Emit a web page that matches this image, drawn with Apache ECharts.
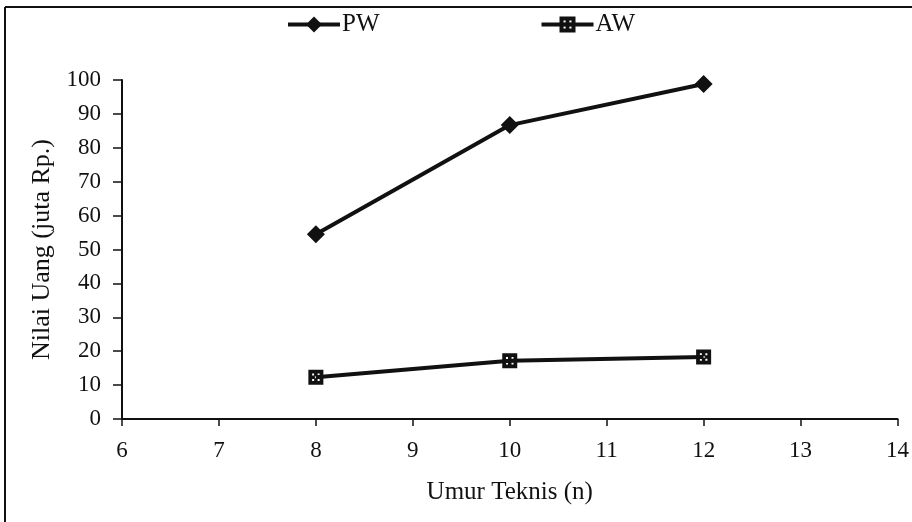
<!DOCTYPE html>
<html>
<head>
<meta charset="utf-8">
<script src="https://cdn.jsdelivr.net/npm/echarts@6/dist/echarts.min.js"></script>
<style>
  html, body { margin: 0; padding: 0; background: #fff; }
  #chart { width: 912px; height: 522px; }
</style>
</head>
<body>
<div id="chart"></div>
<script>
// Umur teknis (tahun) dan nilai uang (juta Rp.)
const years = [8, 10, 12];
const pwValues = [54.5, 86.7, 98.8];
const awValues = [12.3, 17.2, 18.3];
const seriesNames = ['PW', 'AW'];

const FONT = '"Liberation Serif", "DejaVu Serif", serif';
const INK = '#111';

// Square marker with small dotted pattern (holes cut with reversed winding)
const dottedSquare = 'path://M0,0H12V12H0Z' +
  'M3,3V4.6H4.6V3Z M7.4,3V4.6H9V3Z M5.2,5.2V6.8H6.8V5.2Z M3,7.4V9H4.6V7.4Z M7.4,7.4V9H9V7.4Z';

const chart = echarts.init(document.getElementById('chart'));
chart.setOption({
  backgroundColor: '#fff',
  animation: false,
  textStyle: { fontFamily: FONT, color: INK },
  graphic: [
    { type: 'line', shape: { x1: 5, y1: 7, x2: 912, y2: 7 }, style: { stroke: INK, lineWidth: 2 } },
    { type: 'line', shape: { x1: 5, y1: 7, x2: 5, y2: 522 }, style: { stroke: INK, lineWidth: 2 } }
  ],
  legend: {
    left: 281,
    top: 7,
    itemWidth: 52,
    itemHeight: 20,
    itemGap: 160,
    lineStyle: { width: 4 },
    textStyle: { fontFamily: FONT, fontSize: 25, color: INK, padding: [2, 0, 0, -3] },
    data: seriesNames
  },
  grid: { left: 122, right: 14, top: 80, bottom: 103 },
  xAxis: {
    type: 'value',
    min: 6,
    max: 14,
    interval: 1,
    name: 'Umur Teknis (n)',
    nameLocation: 'middle',
    nameGap: 61,
    nameTextStyle: { fontFamily: FONT, fontSize: 25, color: INK },
    axisLine: { onZero: false, lineStyle: { color: INK, width: 2 } },
    axisTick: { length: 7, lineStyle: { color: INK, width: 1.5 } },
    axisLabel: { fontFamily: FONT, fontSize: 23, color: INK, margin: 20 },
    splitLine: { show: false }
  },
  yAxis: {
    type: 'value',
    min: 0,
    max: 100,
    interval: 10,
    name: 'Nilai Uang (juta Rp.)',
    nameLocation: 'middle',
    nameGap: 64,
    nameTextStyle: { fontFamily: FONT, fontSize: 26, color: INK },
    axisLine: { show: true, lineStyle: { color: INK, width: 2 } },
    axisTick: { show: true, length: 9, lineStyle: { color: INK, width: 1.5 } },
    axisLabel: { fontFamily: FONT, fontSize: 23, color: INK, margin: 21 },
    splitLine: { show: false }
  },
  series: [
    {
      name: seriesNames[0],
      type: 'line',
      data: years.map((x, i) => [x, pwValues[i]]),
      symbol: 'diamond',
      symbolSize: 18,
      itemStyle: { color: INK },
      lineStyle: { color: INK, width: 4 }
    },
    {
      name: seriesNames[1],
      type: 'line',
      data: years.map((x, i) => [x, awValues[i]]),
      symbol: dottedSquare,
      symbolSize: 15,
      itemStyle: { color: INK },
      lineStyle: { color: INK, width: 4 }
    }
  ]
});
</script>
</body>
</html>
